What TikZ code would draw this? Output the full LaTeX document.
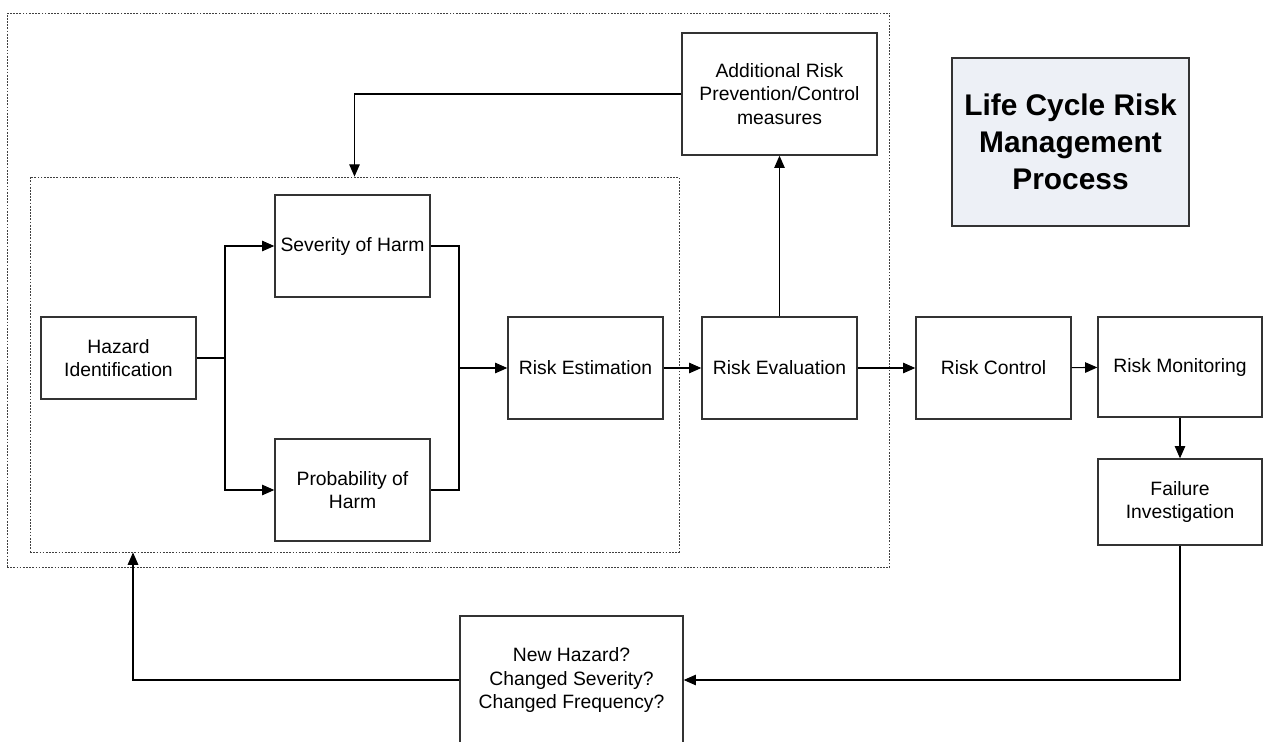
\documentclass[tikz,border=0pt]{standalone}
\usepackage{fontspec}
\setmainfont{Liberation Sans}
\usepackage{tikz}
\usetikzlibrary{arrows.meta,positioning}
\definecolor{titlefill}{RGB}{237,240,246}

\begin{document}
\begin{tikzpicture}[x=0.02cm,y=-0.02cm,>={Triangle[length=7pt,width=6pt]},
  every node/.style={font=\fontsize{11}{13.5}\selectfont},
  box/.style={draw=black!80,line width=0.8pt,align=center,inner sep=2pt},
  group/.style={draw=black!75,line width=0.5pt,dash pattern=on 1pt off 0.8pt,minimum width=#1},
  link/.style={line width=0.6pt}]
\useasboundingbox (0,0) rectangle (1264,741);
% frames
\node[group=17.66cm,minimum height=11.08cm] (outer) at (448.5,290) {};
\node[group=12.98cm,minimum height=7.5cm] (inner) at (354.5,364.5) {};
% boxes
\node[box,minimum width=3.1cm,minimum height=1.64cm] (haz) at (118.5,358) {Hazard\\Identification};
\node[box,minimum width=3.1cm,minimum height=2.04cm] (sev) at (352.5,246) {Severity of Harm};
\node[box,minimum width=3.1cm,minimum height=2.04cm] (prob) at (352.5,490) {Probability of\\Harm};
\node[box,minimum width=3.1cm,minimum height=2.04cm] (est) at (585.5,368) {Risk Estimation};
\node[box,minimum width=3.1cm,minimum height=2.04cm] (eval) at (779.5,368) {Risk Evaluation};
\node[box,minimum width=3.1cm,minimum height=2.04cm] (ctrl) at (993.5,368) {Risk Control};
\node[box,minimum width=3.28cm,minimum height=2.0cm] (mon) at (1180,367) {Risk Monitoring};
\node[box,minimum width=3.28cm,minimum height=1.72cm] (fail) at (1180,502) {Failure\\Investigation};
\node[box,minimum width=3.9cm,minimum height=2.44cm] (add) at (779.5,94) {Additional Risk\\Prevention/Control\\measures};
\node[box,fill=titlefill,minimum width=4.74cm,minimum height=3.36cm,
  font=\fontsize{17}{21}\selectfont\bfseries] (title) at (1070.5,142) {Life Cycle Risk\\Management\\Process};
\node[box,minimum width=4.46cm,minimum height=2.56cm] (newh) at (571.5,680) {New Hazard?\\Changed Severity?\\Changed Frequency?};
% connectors
\coordinate (split) at (225,358);
\coordinate (join) at (459,368);
\coordinate (back) at (133,552.5);
\draw[link] (haz.east) -- (split);
\draw[link,->] (split) |- (sev.west);
\draw[link,->] (split) |- (prob.west);
\draw[link] (sev.east) -| (join) |- (prob.east);
\draw[link,->] (join) -- (est.west);
\draw[link,->] (est) -- (eval);
\draw[link,->] (eval) -- (ctrl);
\draw[link,->] (ctrl) -- (mon);
\draw[link,->] (mon) -- (fail);
\draw[link,->] (eval) -- (add);
\draw[link,->] (add.west) -| (inner.north);
\draw[link,->] (fail.south) |- (newh.east);
\draw[link,->] (newh.west) -| (back);
\end{tikzpicture}
\end{document}
